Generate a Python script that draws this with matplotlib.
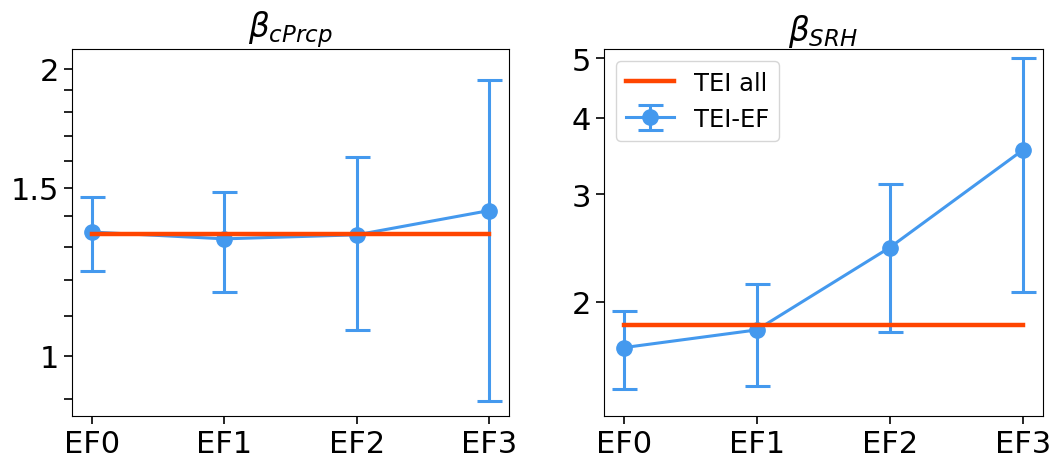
import numpy as np
import matplotlib
matplotlib.use('Agg')
import matplotlib.pyplot as plt
from matplotlib.ticker import FixedLocator, NullFormatter

# categories
cats = ['EF0', 'EF1', 'EF2', 'EF3']

# beta_cPrcp
prcp_ef = [1.348, 1.326, 1.339, 1.420]
prcp_err = [0.12, 0.16, 0.276, 0.525]
prcp_all = 1.341

# beta_SRH
srh_ef = [1.684, 1.80, 2.454, 3.54]
srh_err = [0.245, 0.34, 0.665, 1.465]
srh_all = 1.83

blue = '#4499ee'
red = '#ff4500'

fig = plt.figure(figsize=(10.59, 4.6), dpi=100)
ax1 = fig.add_axes([0.068, 0.0935, 0.4129, 0.798])
ax2 = fig.add_axes([0.5703, 0.0935, 0.4143, 0.798])

x = np.arange(len(cats))

for ax, vals, err, allv, title in [
        (ax1, prcp_ef, prcp_err, prcp_all, r'$\beta_{cPrcp}$'),
        (ax2, srh_ef, srh_err, srh_all, r'$\beta_{SRH}$')]:
    ax.plot(x, [allv] * len(x), color=red, lw=3.2, label='TEI all', zorder=3)
    ax.errorbar(x, vals, yerr=err, color=blue, lw=2.2, marker='o', ms=11,
                capsize=9, capthick=2.2, label='TEI-EF', zorder=2)
    ax.set_yscale('log')
    ax.set_xticks(x)
    ax.set_xticklabels(cats)
    ax.set_title(title, fontsize=23.5)
    ax.tick_params(labelsize=22, length=6, width=1.2)
    ax.tick_params(which='minor', length=6, width=1.2)

ax1.set_ylim(0.864, 2.099)
ax1.yaxis.set_major_locator(FixedLocator([1, 1.5, 2]))
ax1.set_yticklabels(['1', '1.5', '2'])
ax1.yaxis.set_minor_locator(FixedLocator([0.9, 1.1, 1.2, 1.3, 1.4, 1.6, 1.7, 1.8, 1.9]))
ax1.yaxis.set_minor_formatter(NullFormatter())

ax2.set_ylim(1.302, 5.18)
ax2.yaxis.set_major_locator(FixedLocator([2, 3, 4, 5]))
ax2.set_yticklabels(['2', '3', '4', '5'])
ax2.yaxis.set_minor_locator(FixedLocator([]))
ax2.yaxis.set_minor_formatter(NullFormatter())

ax2.legend(loc='upper left', fontsize=17.5)

plt.savefig('out.png', dpi=100)
